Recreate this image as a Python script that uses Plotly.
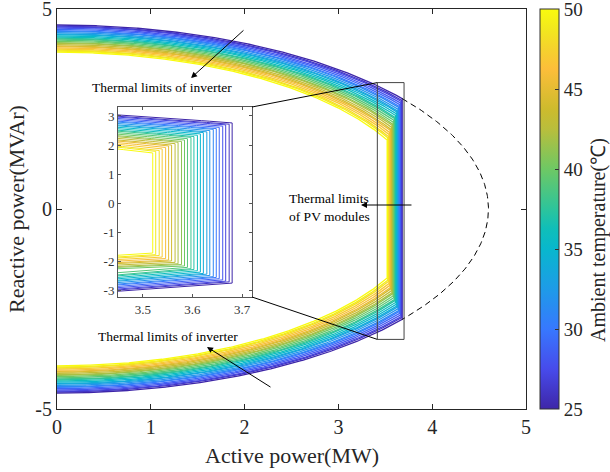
import numpy as np
import plotly.graph_objects as go

# ---------------- data ----------------
temps = list(range(25, 51))  # ambient temperature (degC)
# inverter apparent-power limit S(T) (MVA), read at P=0
s_limit = [4.60, 4.57, 4.55, 4.52, 4.49, 4.46, 4.44, 4.41, 4.38, 4.36, 4.33, 4.30, 4.27,
           4.25, 4.22, 4.19, 4.16, 4.14, 4.11, 4.08, 4.06, 4.03, 4.00, 3.97, 3.95, 3.92]
# PV module active-power limit P(T) (MW)
p_limit = [3.680, 3.674, 3.667, 3.661, 3.654, 3.648, 3.642, 3.635, 3.629, 3.622, 3.616, 3.610,
           3.603, 3.597, 3.590, 3.584, 3.578, 3.571, 3.565, 3.558, 3.552, 3.546, 3.539, 3.533,
           3.526, 3.520]
main_xticks = [0, 1, 2, 3, 4, 5]
main_yticks = [-5, 0, 5]
main_yticktext = ["-5", "0", "5"]
inset_xticks = [3.5, 3.6, 3.7]
inset_yticks = [-3, -2, -1, 0, 1, 2, 3]
inset_yticktext = ["-3", "-2", "-1", "0", "1", "2", "3"]
cbar_ticks = [25, 30, 35, 40, 45, 50]

# parula-like colormap stops
parula_stops = [
    (0.00, (62, 38, 168)), (0.10, (71, 75, 235)), (0.20, (55, 120, 254)),
    (0.30, (30, 155, 232)), (0.40, (8, 183, 205)), (0.45, (15, 190, 185)),
    (0.50, (45, 196, 155)), (0.60, (110, 200, 100)), (0.70, (185, 190, 60)),
    (0.75, (205, 187, 45)), (0.85, (252, 190, 58)), (0.90, (245, 210, 45)),
    (0.95, (242, 232, 30)), (1.00, (249, 251, 14)),
]


def parula(t):
    for (t0, c0), (t1, c1) in zip(parula_stops[:-1], parula_stops[1:]):
        if t <= t1:
            f = (t - t0) / (t1 - t0)
            c = [round(a + (b - a) * f) for a, b in zip(c0, c1)]
            return "rgb(%d,%d,%d)" % tuple(c)
    return "rgb(%d,%d,%d)" % parula_stops[-1][1]


colorscale = [[t, "rgb(%d,%d,%d)" % c] for t, c in parula_stops]
FONT = "Liberation Serif, Times New Roman, serif"

fig = go.Figure()
tmin, tmax = temps[0], temps[-1]
for T, S, P in zip(temps, s_limit, p_limit):
    col = parula((T - tmin) / (tmax - tmin))
    xa = np.linspace(0, P, 240)
    ya = np.sqrt(S ** 2 - xa ** 2)
    x = np.concatenate([xa, xa[::-1]])
    y = np.concatenate([ya, -ya[::-1]])
    fig.add_trace(go.Scatter(x=x, y=y, mode="lines", line=dict(color=col, width=1.3),
                             xaxis="x", yaxis="y", hoverinfo="skip", showlegend=False))
    fig.add_trace(go.Scatter(x=x, y=y, mode="lines", line=dict(color=col, width=1),
                             xaxis="x2", yaxis="y2", hoverinfo="skip", showlegend=False))

# dashed continuation of the lowest-temperature inverter circle
S0, P0 = s_limit[0], p_limit[0]
th0 = np.arccos(P0 / S0)
th = np.linspace(th0, -th0, 200)
fig.add_trace(go.Scatter(x=S0 * np.cos(th), y=S0 * np.sin(th), mode="lines",
                         line=dict(color="black", width=1, dash="6px,4px"),
                         xaxis="x", yaxis="y", hoverinfo="skip", showlegend=False))

# colorbar
fig.add_trace(go.Scatter(
    x=[None, None], y=[None, None], mode="markers", xaxis="x", yaxis="y",
    marker=dict(color=[tmin, tmax], cmin=tmin, cmax=tmax, colorscale=colorscale,
                showscale=True,
                colorbar=dict(x=(540 - 57) / 469, xanchor="left", xpad=0, ypad=0,
                              y=0.5, yanchor="middle", len=1, lenmode="fraction",
                              thickness=19, outlinewidth=1, outlinecolor="#333333",
                              tickvals=cbar_ticks, ticks="inside", ticklen=4,
                              tickcolor="#333333", ticklabeloverflow="allow",
                              tickfont=dict(family=FONT, size=19, color="#262626"))),
    hoverinfo="skip", showlegend=False))

axis_common = dict(showgrid=False, zeroline=False, showline=True, mirror="ticks",
                   ticks="inside", linewidth=1, ticklabeloverflow="allow")

fig.update_layout(
    width=610, height=472,
    margin=dict(l=57, r=84, t=9, b=63, autoexpand=False),
    paper_bgcolor="white", plot_bgcolor="white",
    showlegend=False,
    xaxis=dict(range=[0, 5], tickvals=main_xticks, ticklen=5, linecolor="#262626",
               tickcolor="#262626", tickfont=dict(family=FONT, size=20, color="#262626"),
               domain=[0, 1], anchor="y", **axis_common),
    yaxis=dict(range=[-5, 5], tickvals=main_yticks, ticktext=main_yticktext, ticklen=5,
               linecolor="#262626",
               tickcolor="#262626", tickfont=dict(family=FONT, size=20, color="#262626"),
               domain=[0, 1], anchor="x", **axis_common),
    xaxis2=dict(range=[3.45, 3.72], tickvals=inset_xticks, ticklen=3, linecolor="#555555",
                tickcolor="#555555", tickfont=dict(family=FONT, size=13, color="#333333"),
                domain=[(118 - 57) / 469, (252 - 57) / 469], anchor="y2", **axis_common),
    yaxis2=dict(range=[-3.24, 3.31], tickvals=inset_yticks, ticktext=inset_yticktext,
                ticklen=3, linecolor="#555555",
                tickcolor="#555555", tickfont=dict(family=FONT, size=13, color="#333333"),
                domain=[(409 - 297) / 400, (409 - 107) / 400], anchor="x2", **axis_common),
)

# zoom rectangle and connectors
fig.add_shape(type="rect", xref="x", yref="y", x0=3.415, x1=3.70, y0=-3.26, y1=3.16,
              line=dict(color="#444444", width=1))
fig.add_shape(type="line", xref="paper", yref="paper",
              x0=(252 - 57) / 469, y0=(409 - 107) / 400, x1=3.415 / 5, y1=(3.16 + 5) / 10,
              line=dict(color="black", width=1))
fig.add_shape(type="line", xref="paper", yref="paper",
              x0=(252 - 57) / 469, y0=(409 - 297) / 400, x1=3.415 / 5, y1=(-3.26 + 5) / 10,
              line=dict(color="black", width=1))

afont = dict(family=FONT, size=13.5, color="black")
# arrows
for (hx, hy, tx, ty) in [(1.429, 3.275, 2.004, 4.50), (1.599, -3.45, 2.292, -4.475),
                         (3.241, 0.10, 3.795, 0.10)]:
    fig.add_annotation(x=hx, y=hy, ax=tx, ay=ty, xref="x", yref="y", axref="x", ayref="y",
                       text="", showarrow=True, arrowhead=2, arrowsize=1.2, arrowwidth=1,
                       arrowcolor="black")
fig.add_annotation(x=1.119, y=3.05, xref="x", yref="y", text="Thermal limits of inverter",
                   showarrow=False, font=afont)
fig.add_annotation(x=1.183, y=-3.175, xref="x", yref="y", text="Thermal limits of inverter",
                   showarrow=False, font=afont)
fig.add_annotation(x=2.90, y=0.05, xref="x", yref="y", text="Thermal limits<br>of PV modules",
                   showarrow=False, font=afont, align="left")

# axis titles
fig.add_annotation(x=0.5, y=(409 - 441) / 400, xref="paper", yref="paper", yanchor="top",
                   xanchor="center", text="Active power(MW)", showarrow=False,
                   font=dict(family=FONT, size=22, color="#262626"))
fig.add_annotation(x=(16 - 57) / 469, y=0.5, xref="paper", yref="paper", textangle=-90,
                   xanchor="center", yanchor="middle",
                   text="Reactive power(MVAr)", showarrow=False,
                   font=dict(family=FONT, size=22, color="#262626"))
# colorbar title
fig.add_annotation(x=(598 - 57) / 469, y=(409 - 240) / 400, xref="paper", yref="paper",
                   textangle=-90, xanchor="center", yanchor="middle",
                   text="Ambient temperature(\u2103)", showarrow=False,
                   font=dict(family=FONT, size=20, color="#262626"))

fig.write_html("out.html", config={"displayModeBar": False},
               post_script="document.body.style.margin='0';document.body.style.overflow='hidden';")
